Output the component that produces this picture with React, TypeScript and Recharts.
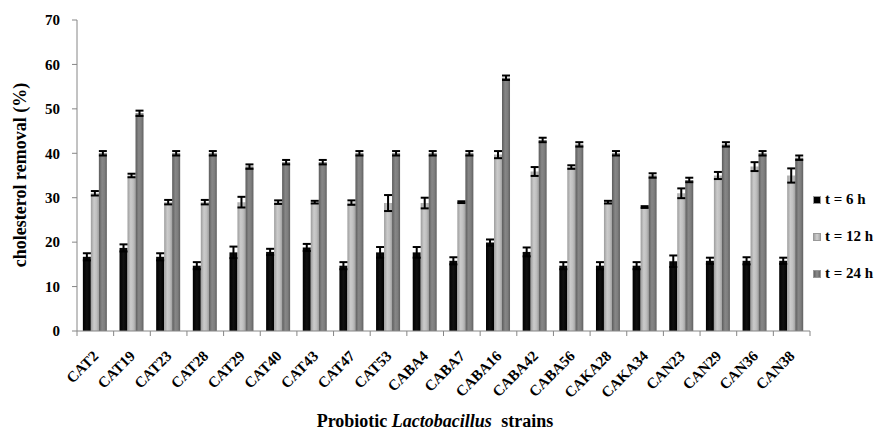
import { BarChart, Bar, XAxis, YAxis, Legend, ErrorBar } from "recharts";

const CATEGORIES = [
  "CAT2", "CAT19", "CAT23", "CAT28", "CAT29", "CAT40", "CAT43", "CAT47", "CAT53", "CABA4",
  "CABA7", "CABA16", "CABA42", "CABA56", "CAKA28", "CAKA34", "CAN23", "CAN29", "CAN36", "CAN38",
];

const T6 = [16.7, 18.7, 16.7, 14.7, 17.7, 17.8, 18.8, 14.7, 17.7, 17.7, 15.8, 19.9, 17.8, 14.7, 14.7, 14.7, 15.7, 15.8, 15.8, 15.8];
const T6_ERR = [0.8, 0.8, 0.8, 0.8, 1.3, 0.7, 0.8, 0.8, 1.2, 1.2, 0.8, 0.7, 1.0, 0.8, 0.8, 0.8, 1.3, 0.7, 0.8, 0.7];

const T12 = [31, 35, 29, 29, 29, 29, 29, 28.9, 28.8, 28.8, 29, 39.7, 35.9, 36.9, 29, 27.9, 31, 35, 37, 35];
const T12_ERR = [0.5, 0.4, 0.5, 0.5, 1.2, 0.4, 0.3, 0.5, 1.8, 1.2, 0.2, 0.8, 1.0, 0.4, 0.3, 0.2, 1.1, 0.8, 1.0, 1.6];

const T24 = [40, 49, 40, 40, 37, 38, 38, 40, 40, 40, 40, 57, 43, 42, 40, 35, 34, 42, 40, 39];
const T24_ERR = [0.5, 0.6, 0.5, 0.5, 0.5, 0.5, 0.5, 0.5, 0.5, 0.5, 0.5, 0.5, 0.5, 0.5, 0.5, 0.5, 0.5, 0.5, 0.5, 0.5];

const Y_TICKS = [0, 10, 20, 30, 40, 50, 60, 70];
const SERIES_ORDER = ["t6", "t12", "t24"];

const data = CATEGORIES.map((name, i) => ({
  name,
  t6: T6[i],
  t6Err: T6_ERR[i],
  t12: T12[i],
  t12Err: T12_ERR[i],
  t24: T24[i],
  t24Err: T24_ERR[i],
}));

const FONT = '"Liberation Serif", "Times New Roman", serif';
const AXIS_GRAY = "#868686";
const PLOT_LEFT = 77;
const PLOT_RIGHT = 810;
const AXIS_Y = 331;
const BAND = (PLOT_RIGHT - PLOT_LEFT) / CATEGORIES.length;

const SWATCHES: Record<string, string> = {
  t6: "#000",
  t12: "linear-gradient(to right, #a4a4a4, #d0d0d0, #a8a8a8)",
  t24: "linear-gradient(to right, #626262, #8c8c8c, #666)",
};

const XTick = (props: any) => {
  const { x, payload, index } = props;
  const half = BAND / 2;
  const tx = x + 4;
  const ty = AXIS_Y + 26;
  return (
    <g>
      <line x1={x - half} x2={x - half} y1={AXIS_Y} y2={AXIS_Y + 5} stroke={AXIS_GRAY} />
      {index === CATEGORIES.length - 1 && (
        <line x1={x + half} x2={x + half} y1={AXIS_Y} y2={AXIS_Y + 5} stroke={AXIS_GRAY} />
      )}
      <text
        x={tx}
        y={ty}
        transform={`rotate(-45 ${tx} ${ty})`}
        textAnchor="end"
        fontFamily={FONT}
        fontWeight="bold"
        fontSize={15}
        fill="#000"
      >
        {payload.value}
      </text>
    </g>
  );
};

const LegendContent = (props: any) => {
  const items = [...(props.payload || [])].sort(
    (a: any, b: any) => SERIES_ORDER.indexOf(a.dataKey) - SERIES_ORDER.indexOf(b.dataKey)
  );
  return (
    <div style={{ fontFamily: FONT, fontWeight: "bold", fontSize: 15, color: "#000" }}>
      {items.map((entry: any) => (
        <div key={entry.dataKey} style={{ height: 37, display: "flex", alignItems: "center" }}>
          <span
            style={{
              width: 8,
              height: 8,
              marginRight: 4,
              background: SWATCHES[entry.dataKey],
              border: "1px solid #999",
              boxSizing: "border-box",
            }}
          />
          <span>{entry.value}</span>
        </div>
      ))}
    </div>
  );
};

export default function App() {
  return (
    <div style={{ position: "absolute", left: 0, top: 0, background: "#fff" }}>
      <BarChart
        width={892}
        height={432}
        data={data}
        margin={{ top: 20, right: 892 - PLOT_RIGHT, bottom: 41, left: 17 }}
        barCategoryGap="16%"
        barGap={0}
      >
        <defs>
          <linearGradient id="gBlack" x1="0" y1="0" x2="1" y2="0">
            <stop offset="0" stopColor="#000" />
            <stop offset="0.5" stopColor="#111" />
            <stop offset="1" stopColor="#000" />
          </linearGradient>
          <linearGradient id="gLight" x1="0" y1="0" x2="1" y2="0">
            <stop offset="0" stopColor="#9c9c9c" />
            <stop offset="0.4" stopColor="#cbcbcb" />
            <stop offset="0.7" stopColor="#c0c0c0" />
            <stop offset="1" stopColor="#a2a2a2" />
          </linearGradient>
          <linearGradient id="gDark" x1="0" y1="0" x2="1" y2="0">
            <stop offset="0" stopColor="#5c5c5c" />
            <stop offset="0.4" stopColor="#878787" />
            <stop offset="0.7" stopColor="#7e7e7e" />
            <stop offset="1" stopColor="#606060" />
          </linearGradient>
        </defs>
        <XAxis
          dataKey="name"
          interval={0}
          tickLine={false}
          height={60}
          stroke={AXIS_GRAY}
          tick={<XTick />}
          label={{
            content: () => (
              <text x={435} y={427} textAnchor="middle" fontFamily={FONT} fontWeight="bold" fontSize={18} fill="#000">
                Probiotic <tspan fontStyle="italic">Lactobacillus</tspan>
                <tspan dx={5}> strains</tspan>
              </text>
            ),
          }}
        />
        <YAxis
          domain={[0, 70]}
          ticks={Y_TICKS}
          width={60}
          stroke={AXIS_GRAY}
          tickSize={5}
          tickMargin={12}
          tick={{ fontFamily: FONT, fontWeight: "bold", fontSize: 15, fill: "#000" }}
          label={{
            content: () => (
              <text
                x={26}
                y={175}
                transform="rotate(-90 26 175)"
                textAnchor="middle"
                fontFamily={FONT}
                fontWeight="bold"
                fontSize={18}
                fill="#000"
              >
                cholesterol removal (%)
              </text>
            ),
          }}
        />
        <Legend
          layout="vertical"
          align="center"
          verticalAlign="middle"
          wrapperStyle={{ left: 813, top: 181, width: 79 }}
          content={<LegendContent />}
        />
        <Bar dataKey="t6" name="t = 6 h" fill="url(#gBlack)" isAnimationActive={false}>
          <ErrorBar dataKey="t6Err" direction="y" width={4} stroke="#000" strokeWidth={2} />
        </Bar>
        <Bar dataKey="t12" name="t = 12 h" fill="url(#gLight)" isAnimationActive={false}>
          <ErrorBar dataKey="t12Err" direction="y" width={4} stroke="#000" strokeWidth={2} />
        </Bar>
        <Bar dataKey="t24" name="t = 24 h" fill="url(#gDark)" isAnimationActive={false}>
          <ErrorBar dataKey="t24Err" direction="y" width={4} stroke="#000" strokeWidth={2} />
        </Bar>
      </BarChart>
    </div>
  );
}
